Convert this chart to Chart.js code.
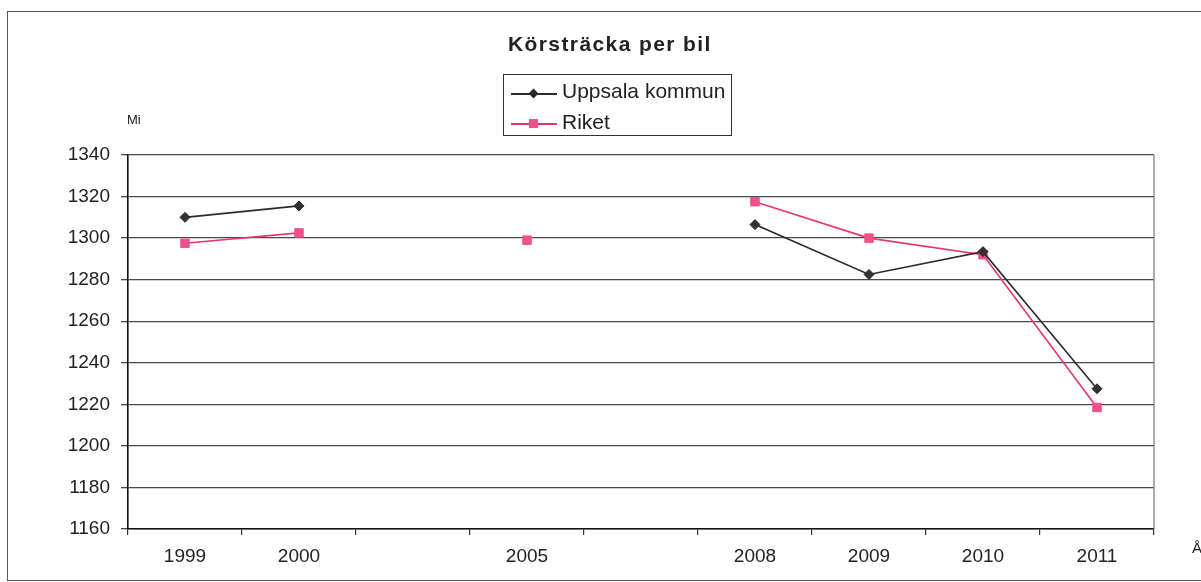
<!DOCTYPE html>
<html lang="sv">
<head>
    <meta charset="UTF-8">
    <title>Körsträcka per bil</title>
    <script src="https://cdn.jsdelivr.net/npm/chart.js"></script>
    <style>
        * { margin: 0; padding: 0; box-sizing: border-box; }
        html, body { width: 1201px; height: 582px; overflow: hidden; background: #fff; }
        body { font-family: 'Liberation Sans', Arial, sans-serif; color: #222; position: relative; }

        .frame { position: absolute; left: 7px; top: 11px; width: 1300px; height: 570px; border: 1.5px solid #555; border-right: none; }
        .wrap { position: absolute; left: 0; top: 0; width: 1201px; height: 582px; }

        .title { position: absolute; left: 508px; top: 32px; font-size: 21px; font-weight: 700; letter-spacing: 1.4px; line-height: 24px; white-space: nowrap; }

        .legend { position: absolute; left: 503px; top: 74px; width: 229px; height: 62px; border: 1.5px solid #333; background: #fff; }
        .legend .row { position: absolute; left: 0; height: 24px; line-height: 24px; font-size: 21px; white-space: nowrap; }
        .legend .txt { position: absolute; left: 58px; top: 0; }
        .legend .ln { position: absolute; left: 7px; width: 46px; height: 1.5px; }
        .legend .mk { position: absolute; }
        .legend .diamond { width: 7px; height: 7px; background: #2a2a2a; transform: rotate(45deg); }
        .legend .square { width: 9px; height: 9px; background: #f0508c; }

        .unit { position: absolute; left: 127px; top: 112px; font-size: 13px; }
        .xunit { position: absolute; left: 1192px; top: 539px; font-size: 15px; }
    </style>
</head>
<body>

<div class="frame"></div>
<div class="wrap"><canvas id="chart"></canvas></div>

<div class="title">Körsträcka per bil</div>

<div class="legend">
    <div class="row" style="top: 4px;">
        <i class="ln" style="top: 14px; background: #2a2a2a;"></i>
        <i class="mk diamond" style="left: 26px; top: 11px;"></i>
        <span class="txt">Uppsala kommun</span>
    </div>
    <div class="row" style="top: 35px;">
        <i class="ln" style="top: 13px; background: #e8356f;"></i>
        <i class="mk square" style="left: 25px; top: 9px;"></i>
        <span class="txt">Riket</span>
    </div>
</div>

<div class="unit">Mi</div>
<div class="xunit">År</div>

<script>
    // Data
    const years = ['1999', '2000', '', '2005', '', '2008', '2009', '2010', '2011'];
    const uppsala = [1310, 1315.5, null, null, null, 1306.5, 1282.5, 1293.5, 1227.5];
    const riket = [1297.5, 1302.5, null, 1299, null, 1317.5, 1300, 1292, 1218.5];
    const yMin = 1160;
    const yMax = 1340;
    const yStep = 20;

    // right edge of the plot area
    const plotFrame = {
        id: 'plotFrame',
        afterDraw(chart) {
            const a = chart.chartArea;
            const c = chart.ctx;
            c.save();
            c.strokeStyle = '#777';
            c.lineWidth = 1.2;
            c.beginPath();
            c.moveTo(a.right, a.top);
            c.lineTo(a.right, a.bottom);
            c.stroke();
            c.restore();
        }
    };

    const tickFont = { family: "'Liberation Sans', Arial, sans-serif", size: 19 };

    new Chart(document.getElementById('chart'), {
        type: 'line',
        data: {
            labels: years,
            datasets: [
                {
                    label: 'Uppsala kommun',
                    data: uppsala,
                    borderColor: '#2a2a2a',
                    backgroundColor: '#333',
                    borderWidth: 1.6,
                    pointStyle: 'rectRot',
                    pointRadius: 5,
                    pointBorderWidth: 1,
                    spanGaps: false,
                    tension: 0
                },
                {
                    label: 'Riket',
                    data: riket,
                    borderColor: '#e8356f',
                    backgroundColor: '#f0508c',
                    pointBorderColor: '#f0508c',
                    borderWidth: 1.6,
                    pointStyle: 'rect',
                    pointRadius: 6,
                    pointBorderWidth: 1,
                    spanGaps: false,
                    tension: 0
                }
            ]
        },
        options: {
            responsive: true,
            maintainAspectRatio: false,
            animation: false,
            layout: { padding: { left: 64, right: 47, top: 155, bottom: 13 } },
            plugins: {
                legend: { display: false },
                title: { display: false },
                tooltip: { enabled: false }
            },
            scales: {
                x: {
                    offset: true,
                    grid: { offset: true, drawOnChartArea: false, drawTicks: true, tickLength: 6, color: '#333', lineWidth: 1.2 },
                    border: { color: '#111', width: 1.6 },
                    ticks: { font: tickFont, color: '#222', padding: 10, maxRotation: 0, autoSkip: false },
                    afterFit: s => { s.height = 40; }
                },
                y: {
                    min: yMin,
                    max: yMax,
                    grid: { color: '#4a4a4a', lineWidth: 1.3, tickLength: 7 },
                    border: { color: '#111', width: 1.6 },
                    ticks: { stepSize: yStep, font: tickFont, color: '#222', padding: 11, callback: v => String(v) },
                    afterFit: s => { s.width = 64; }
                }
            }
        },
        plugins: [plotFrame]
    });
</script>

</body>
</html>
